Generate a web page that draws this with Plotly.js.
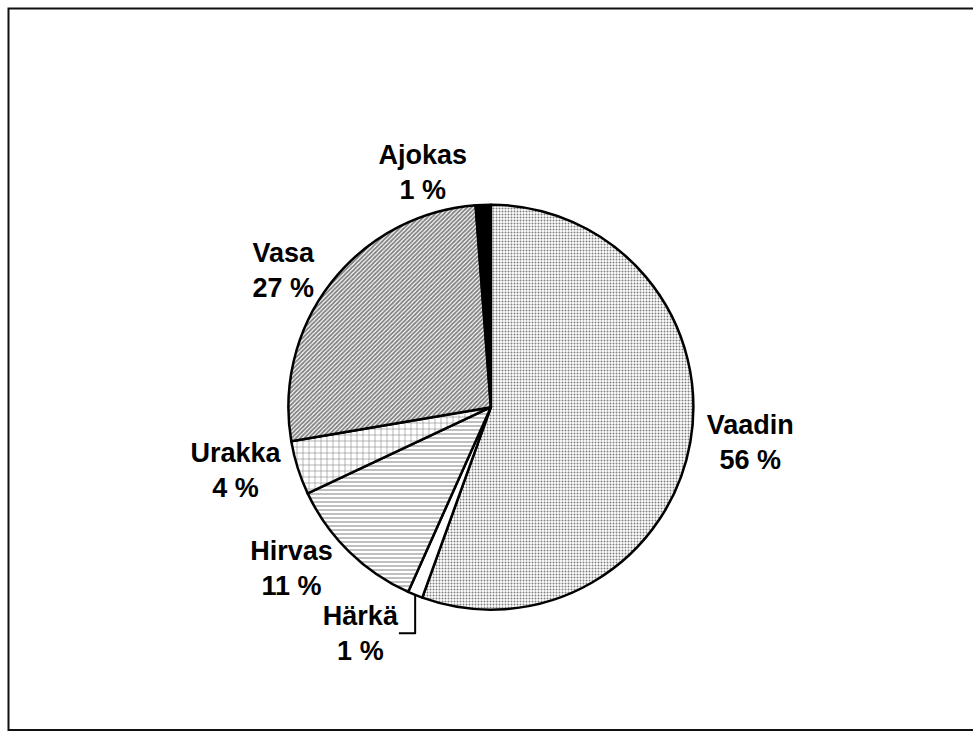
<!DOCTYPE html>
<html>
<head>
<meta charset="utf-8">
<script src="https://cdn.plot.ly/plotly-3.0.1.min.js"></script>
<style>html,body{margin:0;padding:0;background:#fff;}#chart{width:973px;height:731px;}</style>
</head>
<body>
<div id="chart"></div>
<script>
const labels = ["Vaadin", "Härkä", "Hirvas", "Urakka", "Vasa", "Ajokas"];
const values = [55.5, 1.2, 11.3, 4.3, 26.5, 1.2];
const pctLabels = ["56 %", "1 %", "11 %", "4 %", "27 %", "1 %"];

const trace = {
  type: 'pie',
  labels: labels,
  values: values,
  text: pctLabels,
  texttemplate: '%{label}<br>%{text}',
  textposition: 'outside',
  sort: false,
  direction: 'clockwise',
  rotation: 0,
  hole: 0,
  domain: {x: [0.293, 0.716], y: [0.166, 0.720]},
  marker: {
    colors: ['#ffffff', '#ffffff', '#ffffff', '#ffffff', '#ffffff', '#000000'],
    line: {color: '#000000', width: 2.5},
    pattern: {
      shape: ['.', '', '-', '+', '/', ''],
      size: [3, 6, 4, 6, 3, 6],
      solidity: [0.35, 0.2, 0.25, 0.18, 0.6, 0.2],
      fgcolor: '#000000',
      fillmode: 'overlay'
    }
  },
  outsidetextfont: {family: 'Liberation Sans, Arial, sans-serif', size: 27, color: '#000000', weight: 'bold'},
  showlegend: false,
  hoverinfo: 'none'
};

const layout = {
  width: 973,
  height: 731,
  margin: {l: 0, r: 0, t: 0, b: 0},
  paper_bgcolor: '#ffffff',
  plot_bgcolor: '#ffffff',
  showlegend: false,
  shapes: [{
    type: 'rect', xref: 'paper', yref: 'paper',
    x0: 8.5/973, x1: 980/973, y0: 1 - 730/731, y1: 1 - 8.5/731,
    line: {color: '#111111', width: 2}
  }]
};

Plotly.newPlot('chart', [trace], layout, {displayModeBar: false, staticPlot: true});
</script>
</body>
</html>
